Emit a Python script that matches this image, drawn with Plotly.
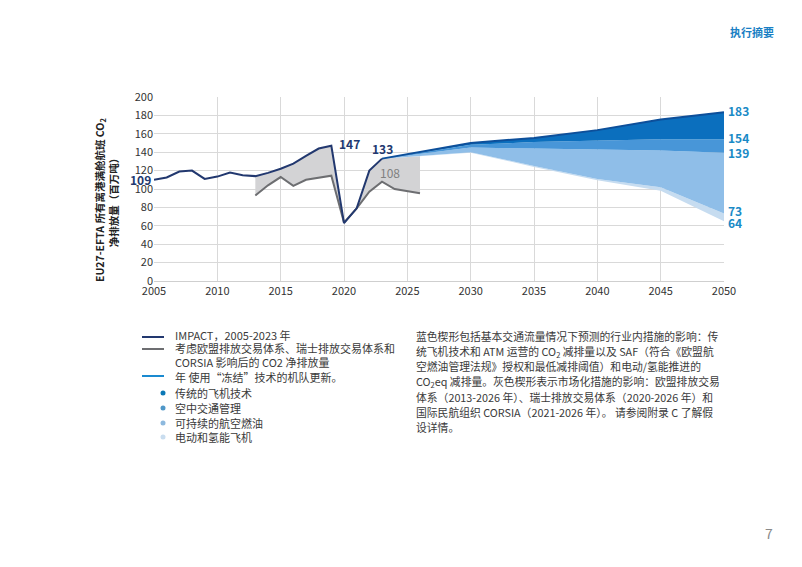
import plotly.graph_objects as go

# historical data (IMPACT) and net emissions after ETS / CORSIA
hist_years = list(range(2005, 2024))
impact = [110, 112.5, 119, 120, 111, 113.5, 118, 115, 114, 117.5, 122, 127.5, 136, 144, 147, 63, 79, 120, 133]

net_years = list(range(2013, 2027))
net_emis = [93, 104, 113, 103.5, 110, 112.5, 114.5, 63.5, 79, 97, 108, 100, 97.5, 95.5]
gray_top = [114, 117.5, 122, 127.5, 136, 144, 147, 63, 79, 120, 133, 134, 135, 135.5]

# projections 2023-2050
proj_years = [2023, 2030, 2035, 2040, 2045, 2050]
frozen_tech = [133, 150, 155.5, 164, 175.5, 183.5]
after_aircraft = [133, 148, 151, 152.8, 154.2, 154]
after_atm = [133, 145, 144, 143.2, 141.8, 139.5]
after_saf = [133, 140, 125, 111, 102, 73.5]
after_hydrogen = [133, 139.5, 124, 109.5, 98, 65]

end_labels = [183, 154, 139, 73, 64]
end_label_y = [185, 155.5, 139.5, 77, 64]

FONT = "Noto Sans CJK SC, Noto Sans, sans-serif"
TXT = "#3a3a3a"

fig = go.Figure()

# gray wedge (market-based measures)
fig.add_trace(go.Scatter(x=net_years, y=gray_top, mode="lines", line=dict(width=0), hoverinfo="skip"))
fig.add_trace(go.Scatter(x=net_years, y=net_emis, mode="lines", fill="tonexty",
                         fillcolor="#d3d3d5", line=dict(color="#6d6e71", width=2)))

# blue wedges
fig.add_trace(go.Scatter(x=proj_years, y=after_hydrogen, mode="lines", line=dict(width=0)))
fig.add_trace(go.Scatter(x=proj_years, y=after_saf, mode="lines", line=dict(width=0),
                         fill="tonexty", fillcolor="#c6dcf0"))
fig.add_trace(go.Scatter(x=proj_years, y=after_atm, mode="lines", line=dict(width=0),
                         fill="tonexty", fillcolor="#8fbee8"))
fig.add_trace(go.Scatter(x=proj_years, y=after_aircraft, mode="lines", line=dict(width=0),
                         fill="tonexty", fillcolor="#4896d8"))
fig.add_trace(go.Scatter(x=proj_years, y=frozen_tech, mode="lines", line=dict(color="#0d4f9a", width=2),
                         fill="tonexty", fillcolor="#0b6fbe"))

# IMPACT line
fig.add_trace(go.Scatter(x=hist_years, y=impact, mode="lines", line=dict(color="#22386f", width=2)))

# page has an 8px body margin, so work in page pixels and shift
OFF = 8
W, H = 802 - OFF, 567 - OFF
L, R, T, B = 154 - OFF, 723.6 - OFF, 97 - OFF, 281 - OFF
def px(x):
    return (x - OFF - L) / (R - L)
def py(y):
    return (B - (y - OFF)) / (B - T)

ann = []
# data labels
ann.append(dict(x=2005, y=impact[0], text="<b>109</b>", xanchor="right", xshift=-1, font=dict(color="#22386f", size=12)))
ann.append(dict(x=2019, y=impact[14], text="<b>147</b>", xanchor="left", xshift=6, yshift=2, font=dict(color="#22386f", size=12)))
ann.append(dict(x=2023, y=impact[18], text="<b>133</b>", xanchor="center", yshift=10, font=dict(color="#22386f", size=12)))
ann.append(dict(x=2023, y=net_emis[10], text="108", xanchor="center", xshift=8, yshift=9, font=dict(color="#808080", size=12)))
for v, yy in zip(end_labels, end_label_y):
    ann.append(dict(x=2050, y=yy, text="<b>%d</b>" % v, xanchor="left", xshift=2, font=dict(color="#1a8ac6", size=12)))
for a in ann:
    a.update(xref="x", yref="y", showarrow=False, yanchor="middle")
    a["font"]["family"] = FONT

def page_text(x, y, text, size=11, color=TXT, xanchor="left", **kw):
    ann.append(dict(xref="paper", yref="paper", x=px(x), y=py(y), text=text, showarrow=False,
                    xanchor=xanchor, yanchor="middle", font=dict(family=FONT, size=size, color=color), **kw))

# y-axis title
page_text(106, 200, "<b>EU27-EFTA 所有离港满舱航班 CO<sub>2</sub></b><br><b>净排放量（百万吨）</b>",
          size=10.5, color="#222", xanchor="center", textangle=-90)

# header & page number
page_text(752, 32, "<b>执行摘要</b>", size=11, color="#1a7fc4", xanchor="center")
page_text(769, 533, "7", size=14, color="#8a8a8a", xanchor="center")

# legend text
leg_items = [
    (335, "IMPACT，2005-2023 年"),
    (348, "考虑欧盟排放交易体系、瑞士排放交易体系和"),
    (362, "CORSIA 影响后的 CO2 净排放量"),
    (377, "年 使用“冻结”技术的机队更新。"),
    (393, "传统的飞机技术"),
    (408, "空中交通管理"),
    (423, "可持续的航空燃油"),
    (437, "电动和氢能飞机"),
]
for yy, t in leg_items:
    page_text(173, yy, t)

body_lines = [
    "蓝色楔形包括基本交通流量情况下预测的行业内措施的影响：传",
    "统飞机技术和 ATM 运营的 CO<sub>2</sub> 减排量以及 SAF（符合《欧盟航",
    "空燃油管理法规》授权和最低减排阈值）和电动/氢能推进的",
    "CO<sub>2</sub>eq 减排量。灰色楔形表示市场化措施的影响：欧盟排放交易",
    "体系（2013-2026 年）、瑞士排放交易体系（2020-2026 年）和",
    "国际民航组织 CORSIA（2021-2026 年）。 请参阅附录 C 了解假",
    "设详情。",
]
for i, t in enumerate(body_lines):
    page_text(414, 336 + i * 15.2, t, size=10.8)

shapes = []
for yy, col in [(337, "#22386f"), (349, "#6d6e71"), (376, "#1a8ad0")]:
    shapes.append(dict(type="line", xref="paper", yref="paper", x0=px(142), x1=px(164), y0=py(yy), y1=py(yy),
                       line=dict(color=col, width=2)))
for yy, col in [(393, "#0a78b6"), (408, "#4f97c8"), (423, "#8db9de"), (437, "#c9ddef")]:
    shapes.append(dict(type="circle", xref="paper", yref="paper", x0=px(160.5), x1=px(165.5),
                       y0=py(yy - 2.5), y1=py(yy + 2.5), line=dict(width=0), fillcolor=col))

fig.update_layout(
    width=W, height=H,
    margin=dict(l=L, r=W - R, t=T, b=H - B),
    paper_bgcolor="white", plot_bgcolor="white",
    showlegend=False,
    font=dict(family=FONT, size=11, color=TXT),
    annotations=ann, shapes=shapes,
    xaxis=dict(range=[2005, 2050], tickvals=list(range(2005, 2051, 5)), showgrid=True, gridcolor="#d9d9d9",
               gridwidth=1, zeroline=False, showline=True, linecolor="#cfcfcf", ticks="",
               tickfont=dict(size=11, color="#333")),
    yaxis=dict(range=[0, 200], dtick=20, showgrid=True, gridcolor="#d9d9d9", gridwidth=1,
               zeroline=False, showline=False, ticks="", tickfont=dict(size=11, color="#333")),
)

fig.write_html("out.html")
